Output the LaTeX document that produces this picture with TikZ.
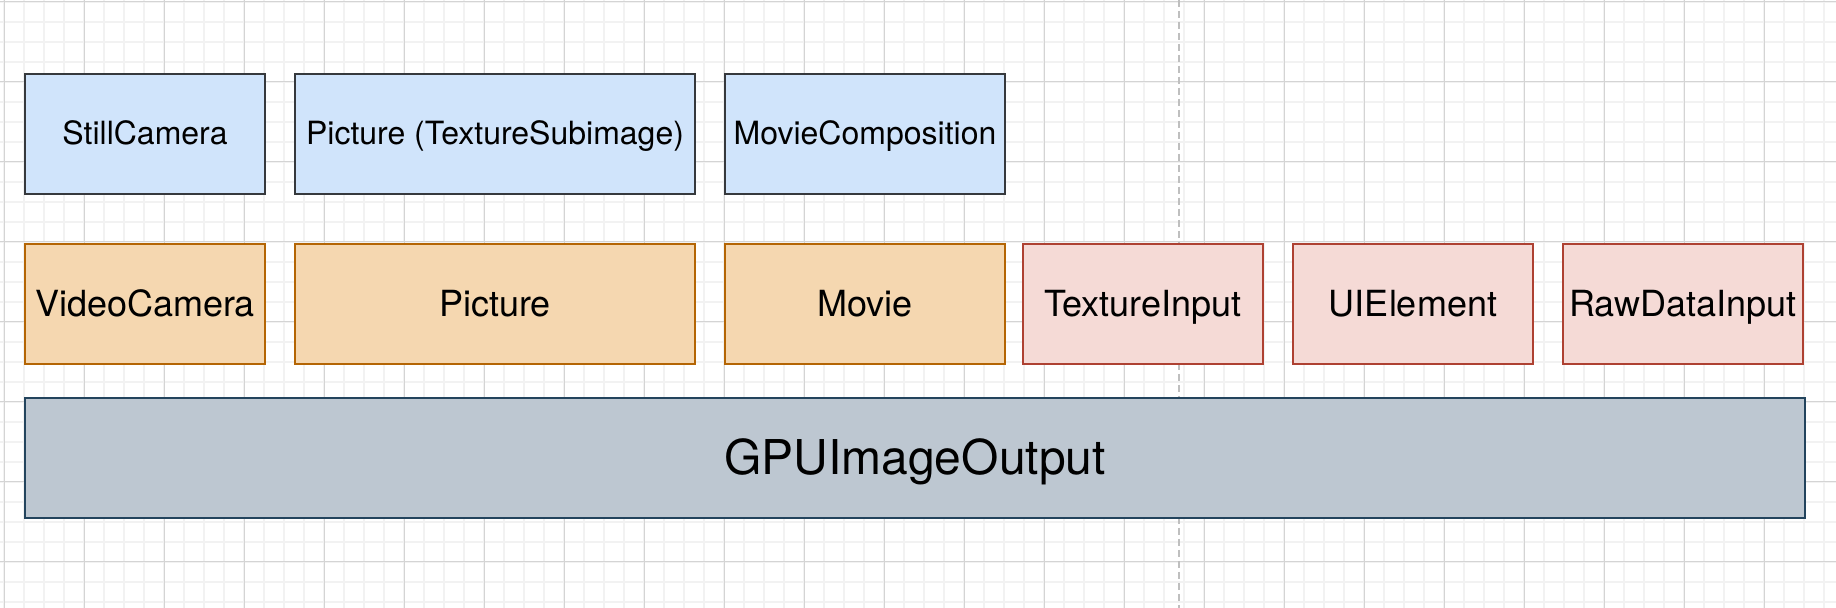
\documentclass[tikz,border=0pt]{standalone}
\usepackage{fontspec}
\setmainfont{TeX Gyre Heros}
\usetikzlibrary{positioning}
\definecolor{bluefill}{HTML}{D0E4FB}
\definecolor{bluedraw}{HTML}{36393D}
\definecolor{orangefill}{HTML}{F5D7B0}
\definecolor{orangedraw}{HTML}{B46504}
\definecolor{redfill}{HTML}{F5DAD6}
\definecolor{reddraw}{HTML}{AE4132}
\definecolor{grayfill}{HTML}{BDC7D1}
\definecolor{graydraw}{HTML}{23445D}
\tikzset{
  minorline/.style={draw=black!5, line width=1pt},
  majorline/.style={draw=black!17, line width=0.5pt},
  pagebreak/.style={draw=black!25, line width=1pt, dash pattern=on 3.5pt off 2pt},
  classbox/.style={rectangle, line width=1pt, outer sep=0pt, inner sep=0pt,
    minimum width=120pt, minimum height=60pt, text=black},
  bluebox/.style={classbox, draw=bluedraw, fill=bluefill,
    font=\fontsize{16}{19}\selectfont, text height=13pt, text depth=2pt},
  orangebox/.style={classbox, draw=orangedraw, fill=orangefill,
    font=\fontsize{18}{21}\selectfont, text height=14.5pt, text depth=2pt},
  redbox/.style={classbox, draw=reddraw, fill=redfill,
    font=\fontsize{18}{21}\selectfont, text height=14.5pt, text depth=2pt},
  graybox/.style={classbox, draw=graydraw, fill=grayfill,
    font=\fontsize{24}{28}\selectfont, text height=19pt, text depth=2pt}
}
\begin{document}
\begin{tikzpicture}[x=0.5pt, y=-0.5pt, node distance=15pt]
  \useasboundingbox (0,0) rectangle (1836,608);
  \fill[white] (0,0) rectangle (1836,608);
  % background grid
  \foreach \gx in {4,24,...,1836} \draw[minorline] (\gx,0) -- (\gx,608);
  \foreach \gy in {2,22,...,608} \draw[minorline] (0,\gy) -- (1836,\gy);
  \foreach \gx in {4,84,...,1836} \draw[majorline] (\gx,0) -- (\gx,608);
  \foreach \gy in {2,82,...,608} \draw[majorline] (0,\gy) -- (1836,\gy);
  \draw[pagebreak] (1179,0) -- (1179,608);

  % sources, top row
  \node (stillcam) [bluebox, anchor=north west] at (25,74) {StillCamera};
  \node (picsub) [bluebox, minimum width=200pt, right=of stillcam] {Picture (TextureSubimage)};
  \node (moviecomp) [bluebox, minimum width=140pt, right=of picsub] {MovieComposition};

  % sources, middle row
  \node (videocam) [orangebox, below=25pt of stillcam] {VideoCamera};
  \node (pic) [orangebox, minimum width=200pt, right=of videocam] {Picture};
  \node (movie) [orangebox, minimum width=140pt, right=of pic] {Movie};
  \node (texin) [redbox, right=9pt of movie] {TextureInput};
  \node (uielem) [redbox, right=of texin] {UIElement};
  \node (rawin) [redbox, right=of uielem] {RawDataInput};

  % base class
  \node (gpuout) [graybox, minimum width=890pt, below right=17pt and 0pt of videocam.south west] {GPUImageOutput};
\end{tikzpicture}
\end{document}
